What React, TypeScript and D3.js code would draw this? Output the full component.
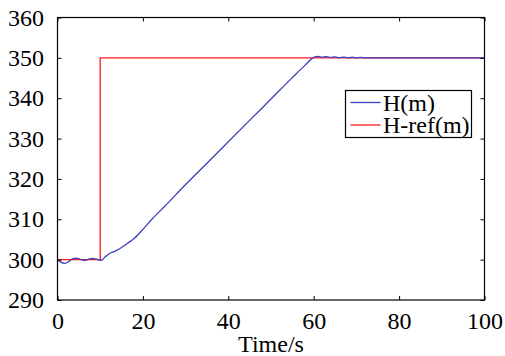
import { useEffect, useRef } from 'react';
import * as d3 from 'd3';

const TIME = [0, 0.8, 1.7, 2.6, 3.5, 4.3, 5.2, 6.3, 7.3, 8.2, 9.2, 10, 10.4, 11, 12, 13.5, 15, 16.5, 18, 20, 22, 25, 30, 35, 40, 45, 50, 55, 58, 60, 61, 62, 63, 64, 65, 66, 67, 68, 69, 70, 71, 72, 73, 100];
const H = [300, 299.4, 299.1, 299.5, 300.2, 300.4, 300.1, 299.8, 300.1, 300.3, 300.1, 299.85, 299.9, 300.5, 301.4, 302.1, 303.0, 304.1, 305.3, 307.5, 309.9, 313.1, 318.6, 323.9, 329.2, 334.5, 339.8, 345.1, 348.2, 350.1, 350.35, 350.15, 350.3, 350.1, 350.25, 350.05, 350.2, 350.0, 350.15, 350.0, 350.1, 350, 350, 350];
const REF_TIME = [0, 10, 10, 100];
const H_REF = [300, 300, 350, 350];

const X_TICKS = [0, 20, 40, 60, 80, 100];
const Y_TICKS = [290, 300, 310, 320, 330, 340, 350, 360];
const LEGEND = [
  { label: 'H(m)', color: '#3a3fc0' },
  { label: 'H-ref(m)', color: '#ff1a1a' },
];

const FONT = "'Liberation Serif', 'DejaVu Serif', serif";

export default function App() {
  const svgRef = useRef<SVGSVGElement>(null);
  const width = 505;
  const height = 356;

  useEffect(() => {
    if (!svgRef.current) return;

    const margin = { top: 17.5, right: 20.5, bottom: 56, left: 57.5 };
    const W = width - margin.left - margin.right;
    const Hh = height - margin.top - margin.bottom;

    const svg = d3.select(svgRef.current);
    svg.selectAll('*').remove();

    const g = svg
      .attr('width', width)
      .attr('height', height)
      .append('g')
      .attr('transform', `translate(${margin.left},${margin.top})`);

    const xScale = d3.scaleLinear().domain([0, 100]).range([0, W]);
    const yScale = d3.scaleLinear().domain([290, 360]).range([Hh, 0]);

    const line = d3.line<[number, number]>()
      .x(d => xScale(d[0]))
      .y(d => yScale(d[1]));

    // Curves
    g.append('path')
      .datum(REF_TIME.map((t, i) => [t, H_REF[i]] as [number, number]))
      .attr('fill', 'none')
      .attr('stroke', LEGEND[1].color)
      .attr('stroke-width', 1.3)
      .attr('d', line);

    g.append('path')
      .datum(TIME.map((t, i) => [t, H[i]] as [number, number]))
      .attr('fill', 'none')
      .attr('stroke', LEGEND[0].color)
      .attr('stroke-width', 1.3)
      .attr('d', d3.line<[number, number]>()
        .x(d => xScale(d[0]))
        .y(d => yScale(d[1]))
        .curve(d3.curveMonotoneX));

    // Axes, ticks inward on all four sides
    const styleAxis = (sel: d3.Selection<SVGGElement, unknown, null, undefined>) => {
      sel.attr('font-family', null).attr('font-size', null);
      sel.select('.domain').remove();
      sel.selectAll('.tick line').attr('stroke', '#000').attr('stroke-width', 1);
      sel.selectAll('text')
        .attr('fill', '#000')
        .style('font-size', '24px')
        .style('font-family', FONT);
    };

    g.append('g')
      .attr('transform', `translate(0,${Hh})`)
      .call(d3.axisBottom(xScale).tickValues(X_TICKS).tickSize(-4).tickPadding(12).tickFormat(d3.format('d')))
      .call(styleAxis);

    g.append('g')
      .call(d3.axisTop(xScale).tickValues(X_TICKS).tickSize(-4).tickFormat(() => ''))
      .call(styleAxis);

    g.append('g')
      .call(d3.axisLeft(yScale).tickValues(Y_TICKS).tickSize(-4).tickPadding(13.5).tickFormat(d3.format('d')))
      .call(styleAxis);

    g.append('g')
      .attr('transform', `translate(${W},0)`)
      .call(d3.axisRight(yScale).tickValues(Y_TICKS).tickSize(-4).tickFormat(() => ''))
      .call(styleAxis);

    // Box
    g.append('rect')
      .attr('x', 0)
      .attr('y', 0)
      .attr('width', W)
      .attr('height', Hh)
      .attr('fill', 'none')
      .attr('stroke', '#000')
      .attr('stroke-width', 1.2);

    // X axis label
    g.append('text')
      .attr('x', W / 2)
      .attr('y', Hh + 51.5)
      .attr('text-anchor', 'middle')
      .attr('fill', '#000')
      .style('font-size', '24px')
      .style('font-family', FONT)
      .text('Time/s');

    // Legend
    const lg = svg.append('g').attr('transform', 'translate(345.5,90.5)');
    lg.append('rect')
      .attr('width', 126)
      .attr('height', 47)
      .attr('fill', '#fff')
      .attr('stroke', '#000')
      .attr('stroke-width', 1.2);

    LEGEND.forEach((item, i) => {
      const cy = 12 + i * 22.5;
      lg.append('line')
        .attr('x1', 5).attr('x2', 35)
        .attr('y1', cy).attr('y2', cy)
        .attr('stroke', item.color)
        .attr('stroke-width', 1.3);
      lg.append('text')
        .attr('x', 37.5)
        .attr('y', cy + 8)
        .attr('fill', '#000')
        .style('font-size', '24px')
        .style('font-family', FONT)
        .text(item.label);
    });
  }, []);

  return <svg ref={svgRef} style={{ position: 'absolute', left: 0, top: 0 }} />;
}
